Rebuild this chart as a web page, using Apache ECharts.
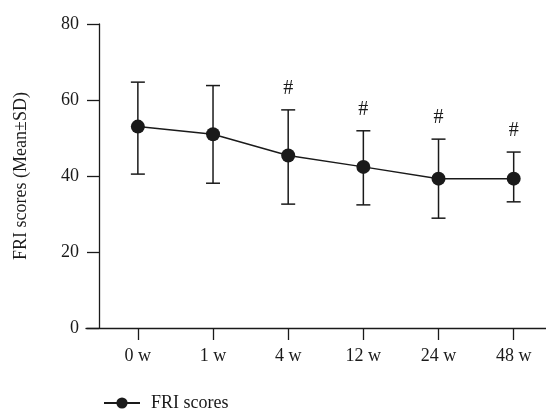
<!DOCTYPE html>
<html><head><meta charset="utf-8">
<script src="https://cdn.jsdelivr.net/npm/echarts@6/dist/echarts.min.js"></script>
<style>html,body{margin:0;padding:0;background:#fff}#c{width:546px;height:412px}</style>
</head><body><div id="c"></div>
<script>
var categories = ['0 w', '1 w', '4 w', '12 w', '24 w', '48 w'];
var means = [53.0, 51.0, 45.4, 42.4, 39.3, 39.3];
var sdLow = [40.5, 38.1, 32.6, 32.4, 28.9, 33.2];
var sdHigh = [64.7, 63.8, 57.4, 51.9, 49.7, 46.3];
var marks = ['', '', '#', '#', '#', '#'];
var yTicks = [0, 20, 40, 60, 80];

var font = 'Liberation Serif';
var ink = '#1a1a1a';
var lineData = means.map(function (v, i) { return [i, v]; });
var errData = means.map(function (v, i) { return [i, sdLow[i], sdHigh[i], marks[i]]; });
var idx = categories.map(function (c, i) { return i; });

var chart = echarts.init(document.getElementById('c'));
chart.setOption({
  animation: false,
  textStyle: { fontFamily: font },
  grid: { left: 86, right: 0, top: 24, bottom: 84 },
  legend: {
    data: ['FRI scores'], left: 98, top: 389, itemWidth: 36, itemHeight: 14,
    itemGap: 10, textStyle: { fontFamily: font, fontSize: 18, color: ink, padding: [0, 0, 0, 6] }
  },
  xAxis: {
    type: 'value', min: -0.69, max: 5.43,
    splitLine: { show: false },
    axisLine: { show: true, onZero: false, lineStyle: { color: ink, width: 1.3 } },
    axisTick: { show: true, length: 12, customValues: idx, lineStyle: { color: ink, width: 1.3 } },
    axisLabel: {
      customValues: idx, margin: 19, fontSize: 18, color: ink, fontFamily: font,
      formatter: function (v) { return categories[Math.round(v)]; }
    }
  },
  yAxis: {
    type: 'value', min: yTicks[0], max: yTicks[yTicks.length - 1], interval: 20,
    offset: -13,
    name: 'FRI scores (Mean\u00b1SD)', nameLocation: 'middle', nameGap: 69,
    nameTextStyle: { fontFamily: font, fontSize: 18, color: ink },
    splitLine: { show: false },
    axisLine: { show: true, onZero: false, lineStyle: { color: ink, width: 1.3 } },
    axisTick: { show: true, length: 12, lineStyle: { color: ink, width: 1.3 } },
    axisLabel: { margin: 20, fontSize: 18, color: ink, fontFamily: font }
  },
  series: [
    {
      name: 'FRI scores', type: 'line', data: lineData, z: 3,
      symbol: 'circle', symbolSize: 14,
      itemStyle: { color: ink },
      lineStyle: { color: ink, width: 1.5 }
    },
    {
      name: 'err', type: 'custom', data: errData, z: 2,
      renderItem: function (params, api) {
        var x = api.value(0);
        var lo = api.coord([x, api.value(1)]);
        var hi = api.coord([x, api.value(2)]);
        var w = 7;
        var st = { stroke: ink, lineWidth: 1.5, fill: null };
        var children = [
          { type: 'line', shape: { x1: lo[0], y1: lo[1], x2: hi[0], y2: hi[1] }, style: st },
          { type: 'line', shape: { x1: lo[0] - w, y1: lo[1], x2: lo[0] + w, y2: lo[1] }, style: st },
          { type: 'line', shape: { x1: hi[0] - w, y1: hi[1], x2: hi[0] + w, y2: hi[1] }, style: st }
        ];
        var m = api.value(3);
        if (m) {
          children.push({
            type: 'text',
            style: { text: m, x: hi[0], y: hi[1] - 11, align: 'center', verticalAlign: 'bottom',
                     font: '20px "' + font + '"', fill: ink }
          });
        }
        return { type: 'group', children: children };
      }
    }
  ]
});
</script></body></html>
